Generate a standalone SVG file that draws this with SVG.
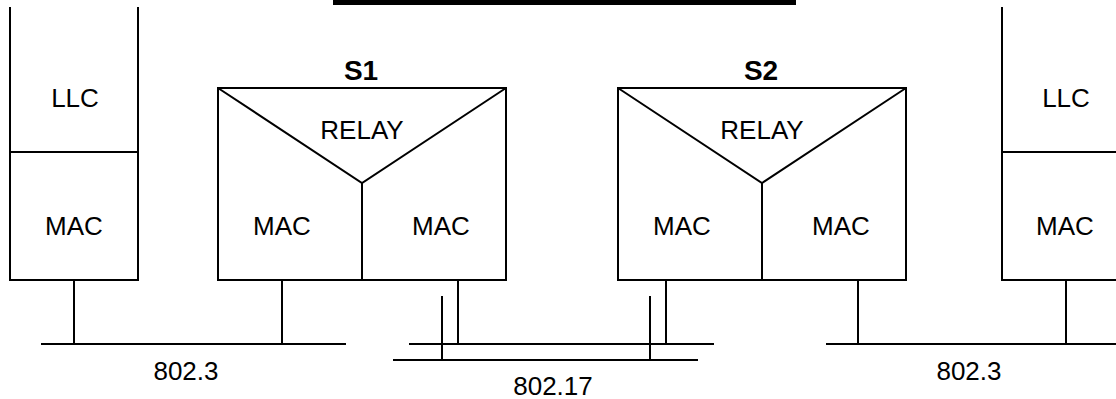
<svg xmlns="http://www.w3.org/2000/svg" width="1116" height="399" viewBox="0 0 1116 399">
<style>
.ln{stroke:#000;stroke-width:2;fill:none}
.t{font-family:"Liberation Sans",Arial,sans-serif;font-size:26px;fill:#000;text-anchor:middle}
.b{font-family:"Liberation Sans",Arial,sans-serif;font-size:28px;font-weight:bold;fill:#000;text-anchor:middle}
</style>
<rect x="333" y="0" width="463" height="5" fill="#000"/>
<g id="stationA">
<path class="ln" d="M10,7 V280 H138 V7 M10,152 H138"/>
<text class="t" x="75" y="107">LLC</text>
<text class="t" x="74" y="235">MAC</text>
</g>
<g id="S1">
<path class="ln" d="M218,88 H506 V280 H218 Z M218,88 L362,183 L506,88 M362,183 V280"/>
<text class="b" x="361" y="80">S1</text>
<text class="t" x="362" y="139">RELAY</text>
<text class="t" x="282" y="235">MAC</text>
<text class="t" x="441" y="235">MAC</text>
</g>
<g id="S2">
<path class="ln" d="M618,88 H906 V280 H618 Z M618,88 L762,183 L906,88 M762,183 V280"/>
<text class="b" x="761" y="80">S2</text>
<text class="t" x="762" y="139">RELAY</text>
<text class="t" x="682" y="235">MAC</text>
<text class="t" x="841" y="235">MAC</text>
</g>
<g id="stationB">
<path class="ln" d="M1002,7 V280 H1118 M1002,152 H1118"/>
<text class="t" x="1066" y="107">LLC</text>
<text class="t" x="1065" y="235">MAC</text>
</g>
<g id="connectors">
<path class="ln" d="M41,344 H346 M74,280 V344 M282,280 V344"/>
<path class="ln" d="M409,344 H714 M393,360 H698 M458,280 V344 M442,296 V360 M666,280 V344 M650,296 V360"/>
<path class="ln" d="M826,344 H1118 M858,280 V344 M1066,280 V344"/>
</g>
<g id="labels">
<text class="t" x="186" y="380">802.3</text>
<text class="t" x="553" y="395">802.17</text>
<text class="t" x="969" y="380">802.3</text>
</g>
</svg>
